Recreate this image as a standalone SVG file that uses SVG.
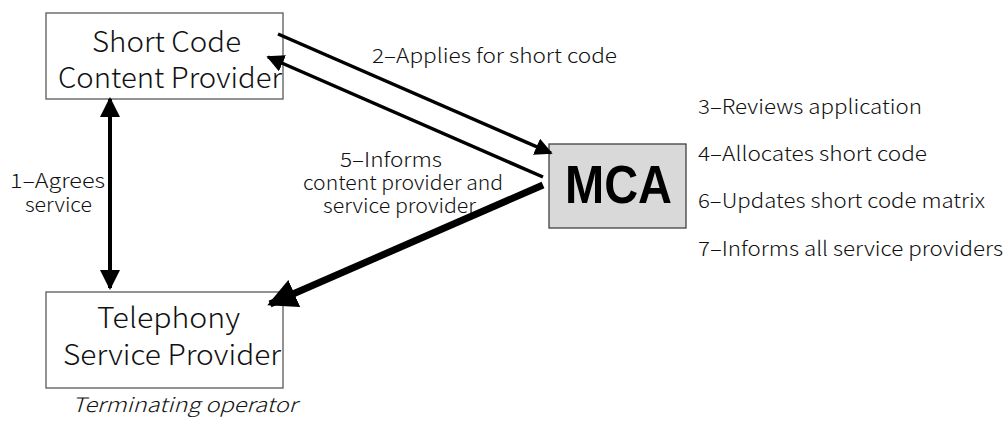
<svg xmlns="http://www.w3.org/2000/svg" width="1007" height="423" viewBox="0 0 1007 423">
<style>
.box{fill:#fff;stroke:#595959;stroke-width:1.3}
.mca{fill:#d9d9d9;stroke:#404040;stroke-width:1.3}
.t{font-family:"Noto Sans CJK JP","Noto Sans",sans-serif;fill:#111;font-weight:300}
.big{font-size:28px}
.lab{font-size:20px}
.ln{stroke:#000;fill:none}
</style>
<defs>
<marker id="ah" viewBox="0 0 10 10" refX="9" refY="5" markerWidth="5" markerHeight="5" markerUnits="strokeWidth" orient="auto-start-reverse"><path d="M0,0 L10,5 L0,10 z" fill="#000"/></marker>
<marker id="ah2" viewBox="0 0 10 10" refX="9" refY="5" markerWidth="5" markerHeight="5" markerUnits="strokeWidth" orient="auto"><path d="M0,0 L10,5 L0,10 z" fill="#000"/></marker>
<marker id="ah3" viewBox="0 0 10 10" refX="9" refY="5" markerWidth="4.2" markerHeight="4.2" markerUnits="strokeWidth" orient="auto"><path d="M0,0 L10,5 L0,10 z" fill="#000"/></marker>
</defs>
<g id="content-provider">
<rect class="box" x="46" y="13" width="237" height="86"/>
<text class="t big" x="92" y="52" textLength="149" lengthAdjust="spacingAndGlyphs">Short Code</text>
<text class="t big" x="58" y="88" textLength="224" lengthAdjust="spacingAndGlyphs">Content Provider</text>
</g>
<g id="service-provider">
<rect class="box" x="46" y="292" width="237" height="96"/>
<text class="t big" x="97" y="328" textLength="143" lengthAdjust="spacingAndGlyphs">Telephony</text>
<text class="t big" x="63" y="365" textLength="218" lengthAdjust="spacingAndGlyphs">Service Provider</text>
<text class="t lab" x="72" y="412" font-style="italic" textLength="225" lengthAdjust="spacingAndGlyphs">Terminating operator</text>
</g>
<g id="mca">
<rect class="mca" x="549" y="144" width="137" height="84"/>
<text x="565" y="203" font-family="Liberation Sans,Arial,sans-serif" font-weight="bold" font-size="54" textLength="107" lengthAdjust="spacingAndGlyphs">MCA</text>
</g>
<g id="labels">
<text class="t lab" x="372" y="63" textLength="245" lengthAdjust="spacingAndGlyphs">2–Applies for short code</text>
<text class="t lab" x="10" y="188" textLength="95" lengthAdjust="spacingAndGlyphs">1–Agrees</text>
<text class="t lab" x="25" y="212" textLength="67" lengthAdjust="spacingAndGlyphs">service</text>
<text class="t lab" x="340" y="167" textLength="102" lengthAdjust="spacingAndGlyphs">5–Informs</text>
<text class="t lab" x="303" y="190" textLength="200" lengthAdjust="spacingAndGlyphs">content provider and</text>
<text class="t lab" x="323" y="213" textLength="153" lengthAdjust="spacingAndGlyphs">service provider</text>
<text class="t lab" x="698" y="114" textLength="224" lengthAdjust="spacingAndGlyphs">3–Reviews application</text>
<text class="t lab" x="698" y="161" textLength="229" lengthAdjust="spacingAndGlyphs">4–Allocates short code</text>
<text class="t lab" x="698" y="208" textLength="287" lengthAdjust="spacingAndGlyphs">6–Updates short code matrix</text>
<text class="t lab" x="698" y="256" textLength="305" lengthAdjust="spacingAndGlyphs">7–Informs all service providers</text>
</g>
<g id="connectors">
<line class="ln" x1="110" y1="99" x2="110" y2="288" stroke-width="4" marker-start="url(#ah)" marker-end="url(#ah)"/>
<line class="ln" x1="278" y1="34" x2="551" y2="153" stroke-width="3.5" marker-end="url(#ah2)"/>
<line class="ln" x1="543" y1="177" x2="268" y2="57" stroke-width="3.5" marker-end="url(#ah2)"/>
<line class="ln" x1="543" y1="185" x2="270" y2="304" stroke-width="7" marker-end="url(#ah3)"/>
</g>
</svg>
